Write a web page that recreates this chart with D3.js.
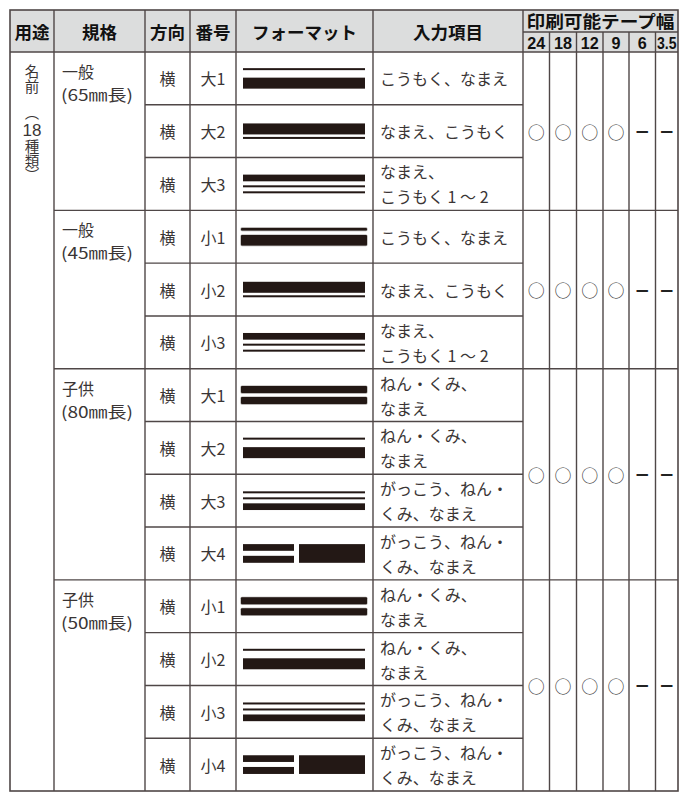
<!DOCTYPE html>
<html><head><meta charset="utf-8">
<script src="https://cdn.jsdelivr.net/npm/d3@7"></script>
<style>
html,body{margin:0;padding:0;background:#fff;}
svg{display:block;}
text{font-family:"Noto Sans CJK JP","Noto Sans",sans-serif;}
</style></head>
<body>
<svg id="chart" width="683" height="792"></svg>
<script>
// ---- data ----
const headerLabels = ["用途","規格","方向","番号","フォーマット","入力項目"];
const tapeHeader = "印刷可能テープ幅";
const tapeWidths = ["24","18","12","9","6","3.5"];
const usageLabel = ["名","前","（","18","種","類","）"];
const specNames = ["一般","一般","子供","子供"];
const specLengths = ["(65㎜長)","(45㎜長)","(80㎜長)","(50㎜長)"];
const groupSizes = [3,3,4,4];
const directions = ["横","横","横","横","横","横","横","横","横","横","横","横","横","横"];
const numbers = ["大1","大2","大3","小1","小2","小3","大1","大2","大3","大4","小1","小2","小3","小4"];
const formats = ["line bar","bar line","mid line line","sline sbar","bar line","mid line line",
                 "smid smid","line bar","line line mid","split","smid smid","line bar","line line mid","split"];
const inputs = [
  ["こうもく、なまえ"],["なまえ、こうもく"],["なまえ、","こうもく 1 ～ 2"],
  ["こうもく、なまえ"],["なまえ、こうもく"],["なまえ、","こうもく 1 ～ 2"],
  ["ねん・くみ、","なまえ"],["ねん・くみ、","なまえ"],["がっこう、ねん・","くみ、なまえ"],["がっこう、ねん・","くみ、なまえ"],
  ["ねん・くみ、","なまえ"],["ねん・くみ、","なまえ"],["がっこう、ねん・","くみ、なまえ"],["がっこう、ねん・","くみ、なまえ"]
];
const availability = [
  ["○","○","○","○","ー","ー"],
  ["○","○","○","○","ー","ー"],
  ["○","○","○","○","ー","ー"],
  ["○","○","○","○","ー","ー"]
];

// ---- layout ----
const svg = d3.select("#chart");
const L = 10, R = 678, T = 10, HB = 52, B = 791, HM = 32;
const colEdges = [10,54,145,190,236,373,523,678];
const tapeEdges = [523,549.5,576.5,603,629,655.5,678];
const tapeX = d3.scaleOrdinal().domain(tapeWidths).range(tapeEdges.slice(0,6));
const tapeW = d => tapeEdges[tapeWidths.indexOf(d)+1] - tapeX(d);
const nRows = numbers.length;
const y = d3.scaleBand().domain(d3.range(nRows)).range([HB, B]).padding(0);
const rh = y.bandwidth();
const ink = "#231815", textCol = "#3a3535", gridCol = "#4f4747";

const groupStart = [];
let acc = 0;
groupSizes.forEach(s => { groupStart.push(acc); acc += s; });

// header background
svg.append("rect").attr("x",L).attr("y",T).attr("width",R-L).attr("height",HB-T).attr("fill","#dcdddd");

// header labels
const hdr = svg.append("g");
headerLabels.forEach((h,i)=>{
  hdr.append("text").attr("x",(colEdges[i]+colEdges[i+1])/2).attr("y",31)
    .attr("text-anchor","middle").attr("dominant-baseline","central")
    .attr("font-size",17.5).attr("font-weight",700).attr("fill","#111").text(h);
});
hdr.append("text").attr("x",(523+678)/2).attr("y",20.5)
  .attr("text-anchor","middle").attr("dominant-baseline","central")
  .attr("font-size",17.5).attr("font-weight",700).attr("fill","#111")
  .attr("textLength",148).attr("lengthAdjust","spacingAndGlyphs").text(tapeHeader);
tapeWidths.forEach(t=>{
  const tx = hdr.append("text").attr("x",tapeX(t)+tapeW(t)/2).attr("y",48.5)
    .attr("text-anchor","middle")
    .style("font-family","'Liberation Sans',Arial,sans-serif")
    .attr("font-size",17).attr("font-weight",700).attr("fill","#111").text(t);
  if (t.length>2) tx.attr("textLength",tapeW(t)-3).attr("lengthAdjust","spacingAndGlyphs");
  else if (t.length===2) tx.attr("textLength",18).attr("lengthAdjust","spacingAndGlyphs");
  else tx.attr("textLength",9).attr("lengthAdjust","spacingAndGlyphs");
});

// usage (vertical writing): two vertical runs + horizontal "18" (tate-chu-yoko)
const vfs = 14.5;
const top1 = svg.append("text").attr("x",32).attr("y",64.5)
  .attr("writing-mode","vertical-rl").style("writing-mode","vertical-rl")
  .attr("fill",textCol).attr("font-size",vfs);
usageLabel.slice(0,3).forEach(c=>{
  const ts = top1.append("tspan").text(c);
  if (c==="（") ts.attr("dy",12);
});
svg.append("text").attr("x",32).attr("y",135.5).attr("text-anchor","middle")
  .style("font-family","'Liberation Sans',Arial,sans-serif")
  .attr("font-size",17).attr("fill",textCol).text(usageLabel[3]);
const bot1 = svg.append("text").attr("x",32).attr("y",139.3)
  .attr("writing-mode","vertical-rl").style("writing-mode","vertical-rl")
  .attr("fill",textCol).attr("font-size",vfs);
usageLabel.slice(4).forEach(c=>{ bot1.append("tspan").text(c); });

// spec labels
groupSizes.forEach((s,g)=>{
  const top = y(groupStart[g]);
  svg.append("text").attr("x",62).attr("y",top+19).attr("dominant-baseline","central")
    .attr("font-size",16).attr("fill",textCol).text(specNames[g]);
  svg.append("text").attr("x",61).attr("y",top+42).attr("dominant-baseline","central")
    .attr("font-size",16).attr("fill",textCol).attr("textLength",72).attr("lengthAdjust","spacingAndGlyphs").text(specLengths[g]);
});

// rows
const sizes = {line:2, bar:11, mid:6.7, sline:2.6, sbar:10.5, smid:7};
function gap(a,b){
  if (a.endsWith("line") && b.endsWith("bar")) return a==="sline" ? 4.5 : 7.5;
  if (a.endsWith("bar") && b.endsWith("line")) return 2.5;
  return 4;
}
for (let i=0;i<nRows;i++){
  const cy = y(i) + rh/2;
  svg.append("text").attr("x",167.5).attr("y",cy).attr("text-anchor","middle").attr("dominant-baseline","central")
    .attr("font-size",16).attr("fill",textCol).text(directions[i]);
  svg.append("text").attr("x",213).attr("y",cy).attr("text-anchor","middle").attr("dominant-baseline","central")
    .attr("font-size",16).attr("fill",textCol).text(numbers[i]);
  const lines = inputs[i];
  lines.forEach((ln,k)=>{
    const ly = lines.length===1 ? cy : cy + (k===0 ? -12.5 : 12.5);
    svg.append("text").attr("x",380).attr("y",ly).attr("dominant-baseline","central")
      .attr("font-size",16).attr("fill",textCol).attr("xml:space","preserve").text(ln);
  });
  const g = svg.append("g");
  if (formats[i]==="split"){
    const total = 6.7+5+7;
    const t0 = cy - total/2;
    g.append("rect").attr("x",243).attr("y",t0).attr("width",51).attr("height",6.7).attr("fill",ink);
    g.append("rect").attr("x",243).attr("y",t0+11.7).attr("width",51).attr("height",7).attr("fill",ink);
    g.append("rect").attr("x",299).attr("y",t0).attr("width",66).attr("height",total).attr("fill",ink);
  } else {
    const toks = formats[i].split(" ");
    let total = 0;
    toks.forEach((t,k)=>{ total += sizes[t]; if (k>0) total += gap(toks[k-1],t); });
    let yy = cy - total/2;
    toks.forEach((t,k)=>{
      if (k>0) yy += gap(toks[k-1],t);
      const soft = t.startsWith("s");
      const r = g.append("rect").attr("x",soft?241:243).attr("y",yy)
        .attr("width",soft?126:122).attr("height",sizes[t]).attr("fill",ink);
      if (soft) r.attr("stroke","rgba(35,24,21,0.4)").attr("stroke-width",1.2).attr("rx",1);
      yy += sizes[t];
    });
  }
}

// availability marks
groupSizes.forEach((s,g)=>{
  const cy = y(groupStart[g]) + (s*rh)/2;
  tapeWidths.forEach((t,j)=>{
    const m = availability[g][j];
    const cx = tapeX(t)+tapeW(t)/2;
    svg.append("text").attr("x",cx).attr("y",cy).attr("text-anchor","middle").attr("dominant-baseline","central")
      .attr("font-size", m==="○"?17:14).attr("font-weight", m==="ー"?700:400)
      .attr("fill", m==="○"?"#444":"#222").text(m);
  });
});

// grid lines
const grid = svg.append("g").attr("stroke",gridCol).attr("stroke-width",1.4).attr("fill","none");
grid.append("line").attr("x1",L).attr("x2",R).attr("y1",HB).attr("y2",HB);
grid.append("line").attr("x1",523).attr("x2",R).attr("y1",HM).attr("y2",HM);
colEdges.slice(1,-1).forEach(x=>{
  grid.append("line").attr("x1",x).attr("x2",x).attr("y1",T).attr("y2",B);
});
tapeEdges.slice(1,-1).forEach(x=>{
  grid.append("line").attr("x1",x).attr("x2",x).attr("y1",HM).attr("y2",B);
});
for (let i=1;i<nRows;i++){
  const isGroup = groupStart.includes(i);
  grid.append("line").attr("x1",isGroup?54:145).attr("x2",isGroup?R:523)
    .attr("y1",y(i)).attr("y2",y(i));
}
grid.append("rect").attr("x",L).attr("y",T).attr("width",R-L).attr("height",B-T).attr("stroke-width",1.6);
</script>
</body></html>
